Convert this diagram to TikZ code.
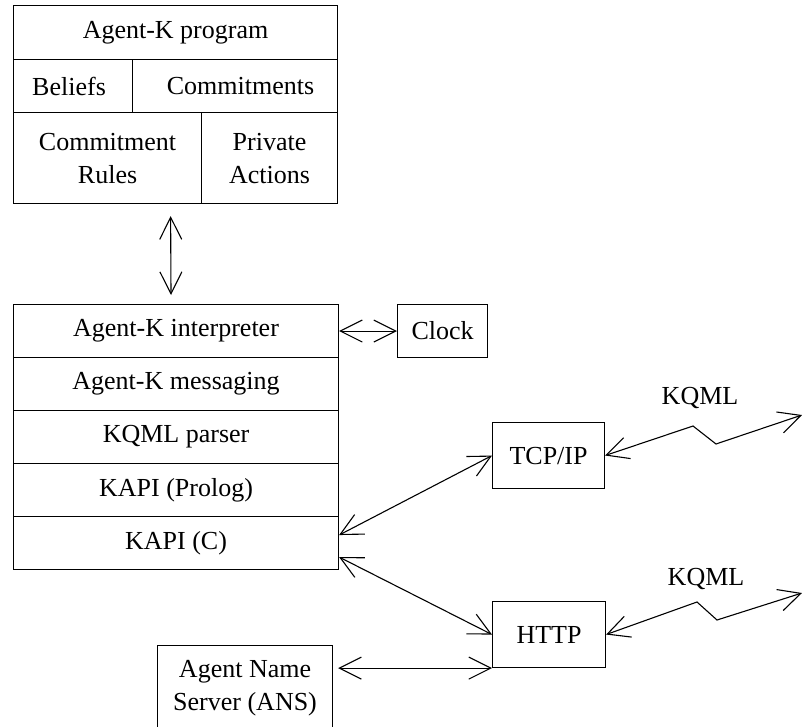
\documentclass[tikz,border=0pt]{standalone}
\usepackage{fontspec}
\setmainfont{Liberation Serif}
\usetikzlibrary{arrows.meta,calc}
\begin{document}
\begin{tikzpicture}[x=1pt,y=-1pt,
  every node/.style={font=\fontsize{26}{33}\selectfont},
  cell/.style={draw, line width=1.1pt, inner sep=0pt, anchor=north west, align=center},
  frame/.style={draw, line width=1.1pt, inner sep=0pt, anchor=north west},
  link/.style={line width=1.1pt, {Straight Barb[length=22pt,width=22pt]}-{Straight Barb[length=22pt,width=22pt]}},
  label/.style={inner sep=0pt},
]
\useasboundingbox (0,0) rectangle (802,727);

% Agent-K program block
\node[frame, minimum width=324pt, minimum height=198pt] (progbox) at (13,5) {};
\node[cell, minimum width=324pt, minimum height=54pt] (prog) at (13,5) {Agent-K program};
\node[cell, minimum width=119pt, minimum height=53pt] (beliefs) at (13,59) {Beliefs\hspace*{8pt}};
\node[cell, minimum width=205pt, minimum height=53pt] (commits) at (132,59) {\hspace*{11pt}Commitments};
\node[cell, minimum width=188pt, minimum height=91pt] (rules) at (13,112) {Commitment\\Rules};
\node[cell, minimum width=136pt, minimum height=91pt] (private) at (201,112) {Private\\Actions};

% Interpreter stack
\node[frame, minimum width=325pt, minimum height=265pt] (stack) at (13,304) {};
\node[cell, minimum width=325pt, minimum height=53pt] (interp) at (13,304) {Agent-K interpreter};
\node[cell, minimum width=325pt, minimum height=53pt] (msg) at (13,357) {Agent-K messaging};
\node[cell, minimum width=325pt, minimum height=53pt] (parser) at (13,410) {KQML parser};
\node[cell, minimum width=325pt, minimum height=53pt] (kprolog) at (13,463) {KAPI (Prolog)};
\node[cell, minimum width=325pt, minimum height=53pt] (kapic) at (13,516) {KAPI (C)};

% Side components
\node[cell, minimum width=90pt, minimum height=53pt] (clock) at (397,304) {Clock};
\node[cell, minimum width=112pt, minimum height=66pt] (tcp) at (492,422) {TCP/IP};
\node[cell, minimum width=113pt, minimum height=66pt] (http) at (492,601) {HTTP};
\node[cell, minimum width=175pt, minimum height=86pt] (ans) at (157,645) {Agent Name\\Server (ANS)};

% Network ends
\coordinate (net1) at (802,415);
\coordinate (net2) at (802,593);

% Connectors
\draw[link, shorten <=12pt, shorten >=9pt] ([xshift=-5pt]progbox.south) -- ([xshift=-5pt]stack.north);
\draw[link] (interp.east) -- (clock.west);
\draw[link] ([yshift=8pt]kapic.east) -- (tcp.west);
\draw[link] ([yshift=-14pt]kapic.east) -- (http.west);
\draw[link, shorten <=5pt] (ans.east |- http.south west) -- (http.south west);
\draw[link] (tcp.east) -- (693,426) -- (716,444) -- (net1);
\draw[link] (http.east) -- (697,602) -- (717,620) -- (net2);

% Protocol labels
\node[label] (kqml1) at (700,398) {KQML};
\node[label] (kqml2) at (706,579) {KQML};
\end{tikzpicture}
\end{document}
